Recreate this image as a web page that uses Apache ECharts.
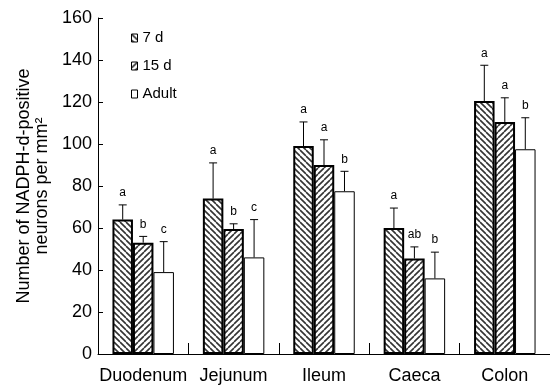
<!DOCTYPE html>
<html><head><meta charset="utf-8">
<script src="https://cdn.jsdelivr.net/npm/echarts@6/dist/echarts.min.js"></script>
<style>html,body{margin:0;padding:0;background:#fff}#c{width:550px;height:389px}</style>
</head><body><div id="c"></div>
<script>
const categories = ['Duodenum', 'Jejunum', 'Ileum', 'Caeca', 'Colon'];
const seriesNames = ['7 d', '15 d', 'Adult'];
const d7 = [64, 74, 99, 60, 120.5];
const d7sd = [7, 17, 11.5, 9.5, 17];
const d7letters = ['a', 'a', 'a', 'a', 'a'];
const d15 = [53, 59.5, 90, 45.5, 110.5];
const d15sd = [3, 2.5, 12, 5.5, 11.5];
const d15letters = ['b', 'b', 'a', 'ab', 'a'];
const adult = [39, 46, 77.5, 36, 97.5];
const adultsd = [14.5, 18, 9.5, 12.5, 15];
const adultletters = ['c', 'c', 'b', 'b', 'b'];
const yTicks = { min: 0, max: 160, interval: 20 };

const FONT = "'Liberation Sans', Arial, sans-serif";

function makePattern(dir) {
  const s = 6;
  const c = document.createElement('canvas');
  c.width = s; c.height = s;
  const g = c.getContext('2d');
  g.fillStyle = '#fff'; g.fillRect(0, 0, s, s);
  g.strokeStyle = '#333'; g.lineWidth = 1.6;
  g.beginPath();
  for (let k = -1; k <= 1; k++) {
    if (dir > 0) { g.moveTo(k * s, s); g.lineTo(k * s + s, 0); }
    else { g.moveTo(k * s, 0); g.lineTo(k * s + s, s); }
  }
  g.stroke();
  return c;
}

const BAR_FRAC = 0.68;
function errSeries(idx, means, sds, letters) {
  return {
    type: 'custom',
    z: 5,
    data: means.map((m, i) => [i, m, m + sds[i]]),
    encode: { x: 0, y: [1, 2] },
    renderItem(params, api) {
      const ci = api.value(0);
      const bw = api.size([1, 0])[0] * BAR_FRAC / 3;
      const c = api.coord([ci, api.value(1)]);
      const t = api.coord([ci, api.value(2)]);
      const x = c[0] + (idx - 1) * bw;
      return {
        type: 'group',
        children: [
          { type: 'line', shape: { x1: x, y1: c[1], x2: x, y2: t[1] }, style: { stroke: '#000', lineWidth: 1 } },
          { type: 'line', shape: { x1: x - 4, y1: t[1], x2: x + 4, y2: t[1] }, style: { stroke: '#000', lineWidth: 1 } },
          { type: 'text', style: { text: letters[params.dataIndex], x: x, y: t[1] - 6, textAlign: 'center', textVerticalAlign: 'bottom', fontSize: 12, fontFamily: FONT, fill: '#000' } }
        ]
      };
    }
  };
}

const chart = echarts.init(document.getElementById('c'));
chart.setOption({
  animation: false,
  backgroundColor: '#fff',
  textStyle: { fontFamily: FONT, color: '#000' },
  grid: { left: 98, top: 18, width: 455, height: 336, containLabel: false },
  legend: {
    orient: 'vertical', left: 131, top: 30, itemWidth: 6, itemHeight: 8, itemGap: 12, padding: 0,
    data: seriesNames,
    icon: 'rect',
    itemStyle: { borderWidth: 1, borderColor: '#000' },
    textStyle: { fontSize: 15, color: '#000', fontFamily: FONT, lineHeight: 16 }
  },
  xAxis: {
    type: 'category', data: categories,
    axisLine: { lineStyle: { color: '#000', width: 1 } },
    axisTick: { show: true, inside: true, length: 11, lineStyle: { color: '#000' } },
    axisLabel: { fontSize: 18, color: '#000', margin: 13, fontFamily: FONT, interval: 0 },
    splitLine: { show: false }
  },
  yAxis: {
    type: 'value', min: yTicks.min, max: yTicks.max, interval: yTicks.interval,
    name: 'Number of NADPH-d-positive\nneurons per mm²',
    nameLocation: 'middle', nameRotate: 90, nameGap: 46,
    nameTextStyle: { fontSize: 18, color: '#000', fontFamily: FONT, lineHeight: 18 },
    axisLine: { show: true, lineStyle: { color: '#000', width: 1 } },
    axisTick: { show: true, inside: true, length: 5, lineStyle: { color: '#000' } },
    axisLabel: { fontSize: 18, color: '#000', margin: 6, fontFamily: FONT },
    splitLine: { show: false }
  },
  series: [
    { name: seriesNames[0], type: 'bar', data: d7, barGap: '0%', barCategoryGap: '32%',
      itemStyle: { color: { image: makePattern(-1), repeat: 'repeat' }, borderColor: '#000', borderWidth: 2 } },
    { name: seriesNames[1], type: 'bar', data: d15,
      itemStyle: { color: { image: makePattern(1), repeat: 'repeat' }, borderColor: '#000', borderWidth: 2 } },
    { name: seriesNames[2], type: 'bar', data: adult,
      itemStyle: { color: '#fff', borderColor: '#000', borderWidth: 1 } },
    errSeries(0, d7, d7sd, d7letters),
    errSeries(1, d15, d15sd, d15letters),
    errSeries(2, adult, adultsd, adultletters)
  ]
});
</script></body></html>
